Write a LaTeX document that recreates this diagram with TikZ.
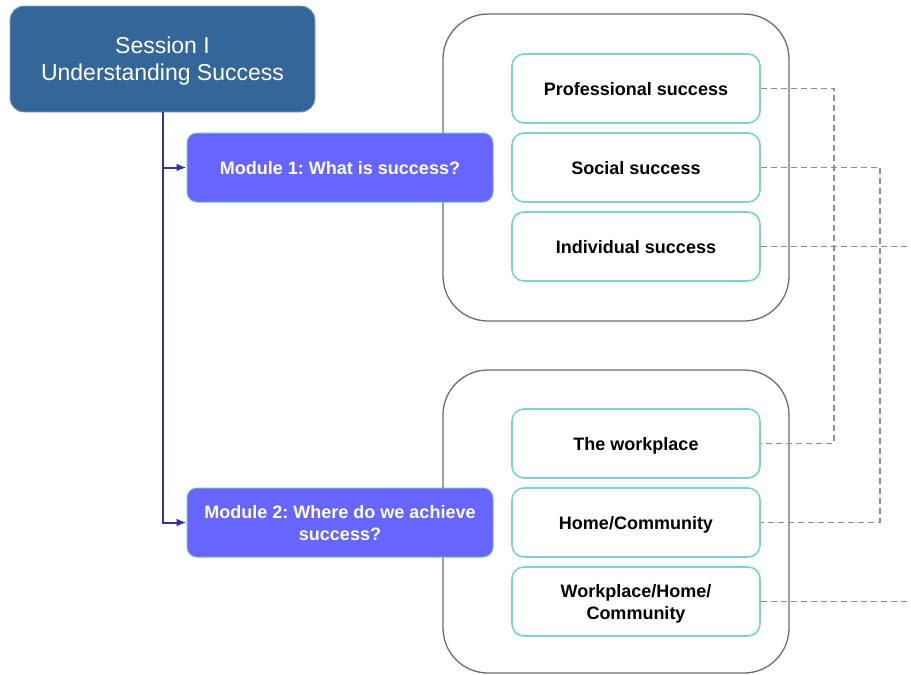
\documentclass[tikz,border=0pt]{standalone}
\usepackage{fontspec}
\setmainfont{Liberation Sans}
\usetikzlibrary{arrows.meta}
\definecolor{sessblue}{HTML}{34669A}
\definecolor{modblue}{HTML}{6666FF}
\definecolor{tealb}{HTML}{7FD0D0}
\definecolor{conn}{HTML}{333399}
\definecolor{grp}{HTML}{6E6E6E}
\definecolor{dsh}{HTML}{8C8C8C}
\frenchspacing
\tikzset{
  sessbox/.style={draw=sessblue!60!white, line width=0.8pt, fill=sessblue, rounded corners=14pt,
    minimum width=305pt, minimum height=106pt, inner sep=0pt, align=center, text=white,
    text depth=0pt, font=\fontsize{23}{27}\selectfont},
  modbox/.style={draw=tealb!90!black, line width=1pt, fill=modblue, rounded corners=10pt,
    minimum width=306pt, minimum height=69pt, inner sep=0pt, align=center, text=white,
    text depth=0pt, font=\bfseries\fontsize{18}{22}\selectfont},
  grpbox/.style={draw=grp, line width=1.3pt, fill=white, rounded corners=45pt,
    minimum width=346pt, inner sep=0pt},
  itembox/.style={draw=tealb, line width=1.6pt, fill=white, rounded corners=12pt,
    minimum width=248pt, minimum height=69pt, inner sep=0pt, align=center, text=black,
    text depth=0pt, font=\bfseries\fontsize{18}{22}\selectfont},
  connline/.style={draw=conn, line width=2pt},
  connarrow/.style={connline, -{Latex[length=10pt,width=8pt]}},
  dashline/.style={draw=dsh, line width=1.1pt, dash pattern=on 6pt off 4pt},
}
\begin{document}
\begin{tikzpicture}[x=1pt,y=-1pt]
\useasboundingbox (0,0) rectangle (911,675);
\node[grpbox, minimum height=307pt] (g1) at (616,167.5) {};
\node[grpbox, minimum height=303pt] (g2) at (616,521.5) {};

\node[sessbox] (sess) at (162.5,59) {Session I\\Understanding Success};
\node[modbox] (m1) at (340,167.5) {Module 1: What is success?};
\node[modbox] (m2) at (340,522.5) {Module 2: Where do we achieve\\success?};

\node[itembox] (pro) at (636,88.5) {Professional success};
\node[itembox] (soc) at (636,167.5) {Social success};
\node[itembox] (ind) at (636,246.5) {Individual success};
\node[itembox] (wp) at (636,443.5) {The workplace};
\node[itembox] (home) at (636,522.5) {Home/Community};
\node[itembox] (whc) at (636,601.5) {Workplace/Home/\\Community};

\coordinate (indend) at (911,246.5);
\coordinate (whcend) at (911,601.5);

\draw[dashline] (pro.east) -- (834,88.5) |- (wp.east);
\draw[dashline] (soc.east) -- (880,167.5) |- (home.east);
\draw[dashline] (ind.east) -- (indend);
\draw[dashline] (whc.east) -- (whcend);

\draw[connarrow] (sess.south) |- (m2.west);
\draw[connarrow] (sess.south |- m1.west) -- (m1.west);
\end{tikzpicture}
\end{document}
